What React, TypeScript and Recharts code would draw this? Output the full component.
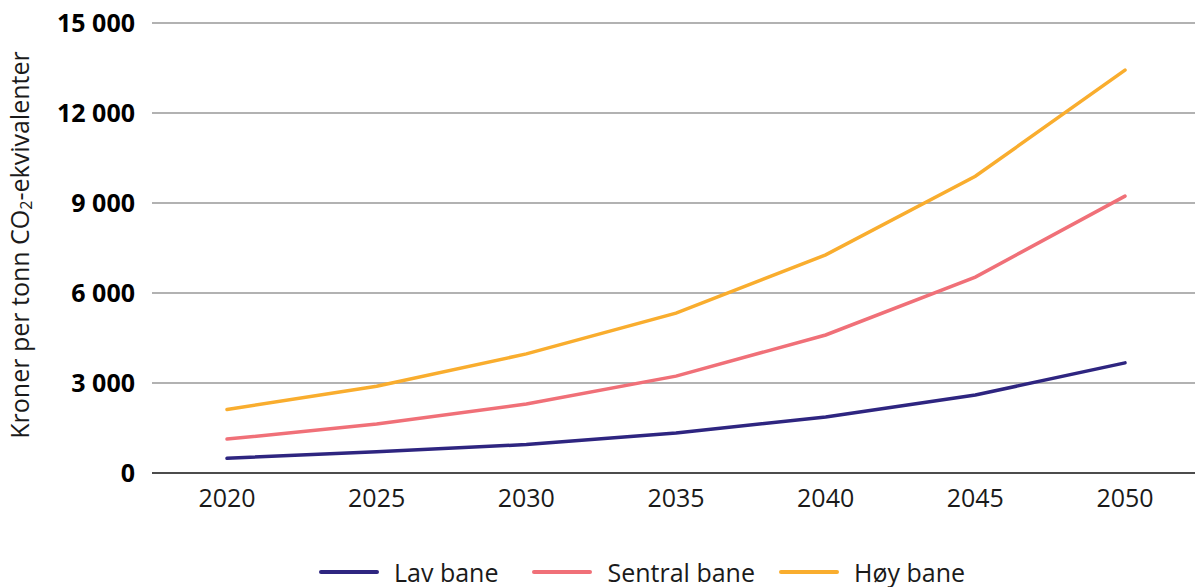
import React from 'react';
import {
  LineChart,
  Line,
  XAxis,
  YAxis,
  CartesianGrid,
  Legend,
} from 'recharts';

const years = ['2020', '2025', '2030', '2035', '2040', '2045', '2050'];
const lavBane = [490, 710, 950, 1330, 1870, 2600, 3670];
const sentralBane = [1130, 1630, 2300, 3230, 4600, 6530, 9230];
const hoyBane = [2120, 2890, 3970, 5330, 7270, 9890, 13430];
const yTicks = [0, 3000, 6000, 9000, 12000, 15000];

const series = [
  { key: 'lav', name: 'Lav bane', color: '#2e2580', gap: 34 },
  { key: 'sentral', name: 'Sentral bane', color: '#f07078', gap: 24 },
  { key: 'hoy', name: 'Høy bane', color: '#f9ad2e', gap: 0 },
];

const data = years.map((year, i) => ({
  year,
  lav: lavBane[i],
  sentral: sentralBane[i],
  hoy: hoyBane[i],
}));

const FONT = '"Open Sans", sans-serif';
const FS = 25;

const fmt = (v: number) =>
  String(v).replace(/\B(?=(\d{3})+(?!\d))/g, ' ');

function YLabel(props: any) {
  const vb = props.viewBox || {};
  const cx = 19;
  const cy = vb.y + vb.height / 2 - 3;
  return (
    <text
      x={cx}
      y={cy}
      transform={`rotate(-90, ${cx}, ${cy})`}
      textAnchor="middle"
      dominantBaseline="central"
      fontFamily={FONT}
      fontSize={FS}
      fill="#1a1a1a"
    >
      <tspan>Kroner per tonn CO</tspan>
      <tspan fontSize={16} dy={7}>2</tspan>
      <tspan dy={-7}>-ekvivalenter</tspan>
    </text>
  );
}

function LegendContent() {
  return (
    <div
      style={{
        display: 'flex',
        justifyContent: 'flex-start',
        alignItems: 'center',
        paddingLeft: 319,
        fontFamily: FONT,
        fontSize: FS,
        color: '#1a1a1a',
        height: 30,
      }}
    >
      {series.map((s) => (
        <div key={s.key} style={{ display: 'flex', alignItems: 'center', marginRight: s.gap }}>
          <span
            style={{
              display: 'inline-block',
              width: 60,
              height: 4,
              borderRadius: 2,
              background: s.color,
              marginRight: 15,
            }}
          />
          <span>{s.name}</span>
        </div>
      ))}
    </div>
  );
}

export default function App() {
  return (
    <div style={{ position: 'absolute', left: 0, top: 0, width: 1195, height: 587, background: '#fff' }}>
      <LineChart
        width={1195}
        height={587}
        data={data}
        margin={{ top: 23, right: 0, bottom: 0, left: 0 }}
      >
        <CartesianGrid vertical={false} stroke="#666" strokeWidth={1.2} />
        <XAxis
          dataKey="year"
          height={84}
          padding={{ left: 75, right: 70 }}
          tickLine={false}
          axisLine={{ stroke: '#2a2a2a', strokeWidth: 1.5 }}
          tickSize={0}
          tickMargin={16}
          tick={{ fill: '#1a1a1a', fontSize: FS, fontFamily: FONT }}
        />
        <YAxis
          width={152}
          domain={[0, 15000]}
          ticks={yTicks}
          interval={0}
          tickFormatter={fmt}
          tickLine={false}
          axisLine={false}
          tickSize={0}
          tickMargin={17}
          tick={{ fill: '#000', fontSize: FS, fontWeight: 700, fontFamily: FONT }}
          label={<YLabel />}
        />
        <Legend verticalAlign="bottom" height={30} content={<LegendContent />} />
        {series.map((s) => (
          <Line
            key={s.key}
            type="linear"
            dataKey={s.key}
            name={s.name}
            stroke={s.color}
            strokeWidth={3.5}
            strokeLinecap="round"
            dot={false}
            activeDot={false}
            isAnimationActive={false}
          />
        ))}
      </LineChart>
    </div>
  );
}
